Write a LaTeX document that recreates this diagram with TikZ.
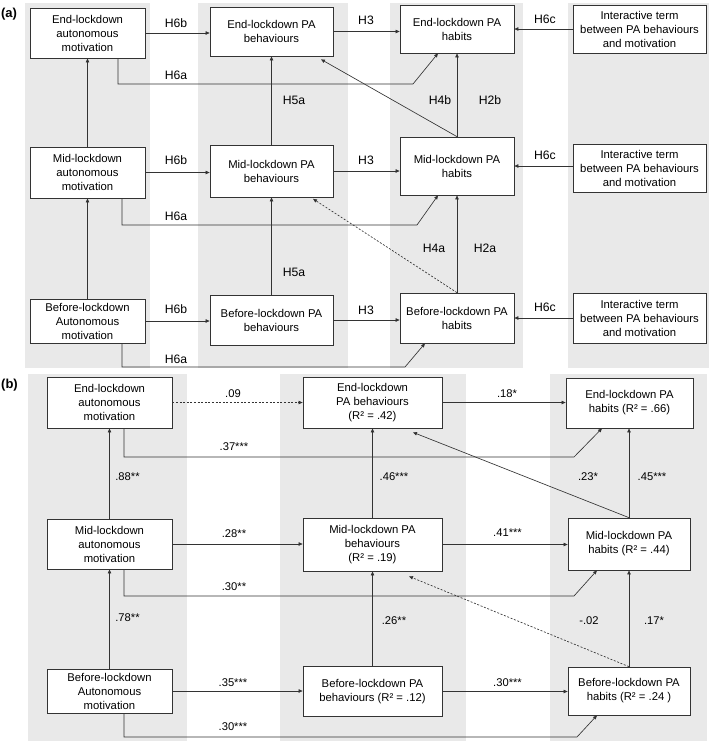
\documentclass[tikz,border=0pt]{standalone}
\usepackage{fontspec}
\setmainfont{Liberation Sans}
\usetikzlibrary{arrows.meta}
\definecolor{bgcol}{gray}{0.912}
\definecolor{ln}{gray}{0.2}
\tikzset{
  box/.style={draw=ln, fill=white, line width=0.7pt, align=center, inner sep=0pt,
    font=\fontsize{11.3}{14}\selectfont},
  arr/.style={draw=ln, line width=0.65pt, -{Triangle[length=4pt,width=3.4pt]}},
  dsh/.style={arr, dash pattern=on 2pt off 1.6pt},
  hl/.style={font=\fontsize{12.2}{14}\selectfont, inner sep=0pt},
  bl/.style={font=\fontsize{11.2}{13}\selectfont, inner sep=0pt},
  plab/.style={font=\fontsize{13}{15}\selectfont\bfseries, inner sep=0pt},
  bgcolumn/.style={fill=bgcol, draw=none}
}
\begin{document}
\begin{tikzpicture}[x=1pt,y=-1pt]
\useasboundingbox (0,0) rectangle (709,742);
\fill[white] (0,0) rectangle (709,742);
% ---------- panel (a) background ----------
\fill[bgcolumn] (25,3) rectangle (150,368);
\fill[bgcolumn] (198,3) rectangle (348,368);
\fill[bgcolumn] (390,3) rectangle (523,368);
\fill[bgcolumn] (568,3) rectangle (709,368);
% ---------- panel (b) background ----------
\fill[bgcolumn] (28,374) rectangle (187,741);
\fill[bgcolumn] (280,374) rectangle (466,741);
\fill[bgcolumn] (550,374) rectangle (707,741);

\node[plab] (pa) at (9,14) {(a)};
\node[plab] (pb) at (9.5,385) {(b)};

% ---------- panel (a) nodes ----------
\node[box, minimum width=115pt, minimum height=50pt] (ea) at (87.5,33) {End-lockdown\\autonomous\\motivation};
\node[box, minimum width=123pt, minimum height=49pt] (eb) at (271.5,31.5) {End-lockdown PA\\behaviours};
\node[box, minimum width=114pt, minimum height=48pt] (eh) at (457,29) {End-lockdown PA\\habits};
\node[box, minimum width=133pt, minimum height=48pt] (ei) at (639.5,29) {Interactive term\\between PA behaviours\\and motivation};

\node[box, minimum width=115pt, minimum height=51pt] (ma) at (87.5,172.5) {Mid-lockdown\\autonomous\\motivation};
\node[box, minimum width=123pt, minimum height=52pt] (mb) at (271.5,171) {Mid-lockdown PA\\behaviours};
\node[box, minimum width=114pt, minimum height=58pt] (mh) at (457,166) {Mid-lockdown PA\\habits};
\node[box, minimum width=133pt, minimum height=48pt] (mi) at (639.5,168) {Interactive term\\between PA behaviours\\and motivation};

\node[box, minimum width=115pt, minimum height=44pt] (ba) at (87.5,321) {Before-lockdown\\Autonomous\\motivation};
\node[box, minimum width=123pt, minimum height=50pt] (bb) at (271.5,320) {Before-lockdown PA\\behaviours};
\node[box, minimum width=114pt, minimum height=50pt] (bh) at (457,318) {Before-lockdown PA\\habits};
\node[box, minimum width=133pt, minimum height=50pt] (bi) at (639.5,318) {Interactive term\\between PA behaviours\\and motivation};

% ---------- panel (a) connectors ----------
\coordinate (ka1) at (413,84);
\coordinate (ka2) at (417,225);
\coordinate (ka3) at (405,367);
\draw[arr] (ea.east) -- (ea.east -| eb.west);
\draw[arr] (eb.east) -- (eb.east -| eh.west);
\draw[arr] (ei.west) -- (eh.east);
\draw[arr] ([xshift=30.5pt]ea.south) |- (ka1) -- ([xshift=-19pt]eh.south);
\draw[arr] (ma.north) -- (ea.south);
\draw[arr] (mb.north) -- (eb.south);
\draw[arr] (mh.north) -- ([xshift=49.5pt,yshift=-3pt]eb.south);
\draw[arr] (mh.north) -- (eh.south);

\draw[arr] (ma.east) -- (ma.east -| mb.west);
\draw[arr] (mb.east) -- (mb.east -| mh.west);
\draw[arr] (mh.east -| mi.west) -- (mh.east);
\draw[arr] ([xshift=34.5pt]ma.south) |- (ka2) -- ([xshift=-19pt]mh.south);
\draw[arr] (ba.north) -- (ma.south);
\draw[arr] (bb.north) -- (mb.south);
\draw[arr] (bh.north) -- (mh.south);
\draw[dsh] (bh.north) -- ([xshift=41.5pt,yshift=-1.5pt]mb.south);

\draw[arr] (ba.east) -- (ba.east -| bb.west);
\draw[arr] (bb.east) -- (bb.east -| bh.west);
\draw[arr] (bi.west) -- (bh.east);
\draw[arr] ([xshift=34.5pt]ba.south) |- (ka3) -- ([xshift=-32pt]bh.south);

% ---------- panel (a) labels ----------
\node[hl] (la1) at (176,23) {H6b};
\node[hl] (la2) at (366,20) {H3};
\node[hl] (la3) at (545,19) {H6c};
\node[hl] (la4) at (176,75) {H6a};
\node[hl] (la5) at (294,100) {H5a};
\node[hl] (la6) at (440,100) {H4b};
\node[hl] (la7) at (490,100) {H2b};
\node[hl] (la8) at (176,160) {H6b};
\node[hl] (la9) at (366,160) {H3};
\node[hl] (la10) at (545,155) {H6c};
\node[hl] (la11) at (176,216) {H6a};
\node[hl] (la12) at (294,272) {H5a};
\node[hl] (la13) at (434,248) {H4a};
\node[hl] (la14) at (485,248) {H2a};
\node[hl] (la15) at (176,309) {H6b};
\node[hl] (la16) at (366,310) {H3};
\node[hl] (la17) at (545,307) {H6c};
\node[hl] (la18) at (176,359) {H6a};

% ---------- panel (b) nodes ----------
\node[box, minimum width=125pt, minimum height=51pt] (EA) at (109.5,402.5) {End-lockdown\\autonomous\\motivation};
\node[box, minimum width=139pt, minimum height=51pt] (EB) at (372.5,402.5) {End-lockdown\\PA behaviours\\(R² = .42)};
\node[box, minimum width=127pt, minimum height=50pt] (EH) at (629.5,403) {End-lockdown PA\\habits (R² = .66)};

\node[box, minimum width=125pt, minimum height=50pt] (MA) at (109.5,544) {Mid-lockdown\\autonomous\\motivation};
\node[box, minimum width=139pt, minimum height=53pt] (MB) at (372.5,544.5) {Mid-lockdown PA\\behaviours\\(R² = .19)};
\node[box, minimum width=122pt, minimum height=52pt] (MH) at (629,544) {Mid-lockdown PA\\habits (R² = .44)};

\node[box, minimum width=125pt, minimum height=44pt] (BA) at (109.5,691) {Before-lockdown\\Autonomous\\motivation};
\node[box, minimum width=139pt, minimum height=50pt] (BB) at (372.5,691.5) {Before-lockdown PA\\behaviours (R² = .12)};
\node[box, minimum width=122pt, minimum height=48pt] (BH) at (629,691) {Before-lockdown PA\\habits (R² = .24 )};

% ---------- panel (b) connectors ----------
\coordinate (kb1) at (574,457);
\coordinate (kb2) at (574,596);
\coordinate (kb3) at (577,737);
\draw[dsh] (EA.east) -- (EB.west);
\draw[arr] (EB.east) -- (EB.east -| EH.west);
\draw[arr] ([xshift=14.5pt]EA.south) |- (kb1) -- ([xshift=-27.5pt]EH.south);
\draw[arr] (MA.north) -- (EA.south);
\draw[arr] (MB.north) -- (EB.south);
\draw[arr] (MH.north) -- ([xshift=40.5pt,yshift=-4pt]EB.south);
\draw[arr] (MH.north) -- (MH.north |- EH.south);

\draw[arr] (MA.east) -- (MA.east -| MB.west);
\draw[arr] (MB.east) -- (MB.east -| MH.west);
\draw[arr] ([xshift=14.5pt]MA.south) |- (kb2) -- ([xshift=-32pt]MH.south);
\draw[arr] (BA.north) -- (MA.south);
\draw[arr] (BB.north) -- (MB.south);
\draw[arr] (BH.north) -- (MH.south);
\draw[dsh] (BH.north) -- ([xshift=36.5pt,yshift=-5pt]MB.south);

\draw[arr] (BA.east) -- (BA.east -| BB.west);
\draw[arr] (BB.east) -- (BB.east -| BH.west);
\draw[arr] ([xshift=14.5pt]BA.south) |- (kb3) -- ([xshift=-32pt]BH.south);

% ---------- panel (b) labels ----------
\node[bl] (lb1) at (233,394) {.09};
\node[bl] (lb2) at (507,394) {.18*};
\node[bl] (lb3) at (234,447) {.37***};
\node[bl] (lb4) at (127.5,477) {.88**};
\node[bl] (lb5) at (394,477) {.46***};
\node[bl] (lb6) at (588,477) {.23*};
\node[bl] (lb7) at (652,477) {.45***};
\node[bl] (lb8) at (234,534) {.28**};
\node[bl] (lb9) at (507.5,533) {.41***};
\node[bl] (lb10) at (234,587) {.30**};
\node[bl] (lb11) at (127.5,618) {.78**};
\node[bl] (lb12) at (394,621) {.26**};
\node[bl] (lb13) at (589,621) {-.02};
\node[bl] (lb14) at (654,621) {.17*};
\node[bl] (lb15) at (233,683) {.35***};
\node[bl] (lb16) at (507.5,683) {.30***};
\node[bl] (lb17) at (233,727) {.30***};
\end{tikzpicture}
\end{document}
